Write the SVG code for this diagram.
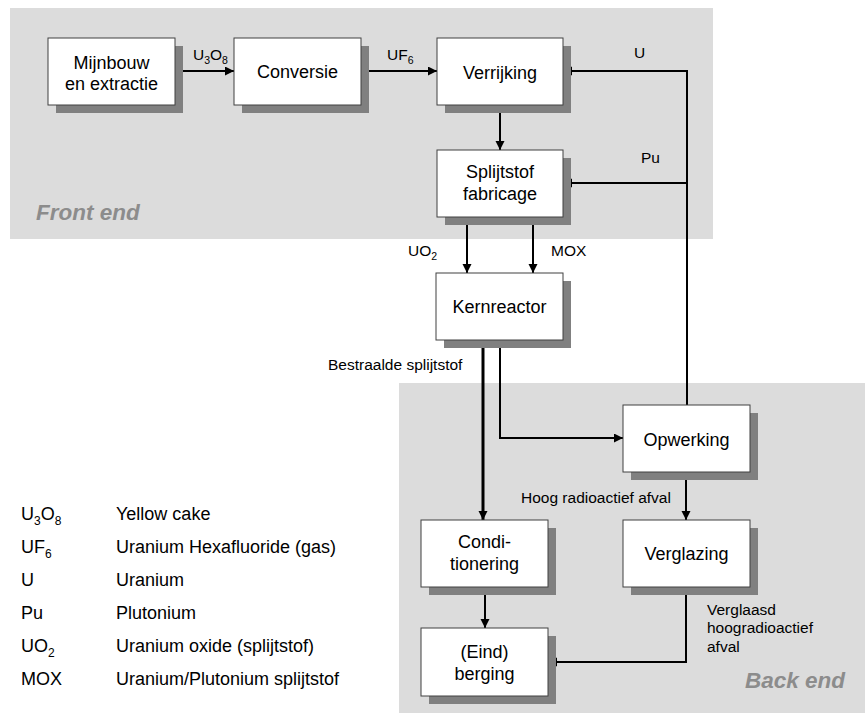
<svg xmlns="http://www.w3.org/2000/svg" width="865" height="713" viewBox="0 0 865 713">
<defs>
<marker id="arr" markerUnits="userSpaceOnUse" markerWidth="10" markerHeight="10" refX="9" refY="4.5" orient="auto">
<path d="M0,0 L9,4.5 L0,9 z" fill="#000"/>
</marker>
</defs>
<style>
text{font-family:"Liberation Sans",Arial,Helvetica,sans-serif;fill:#000}
.box{fill:#fff;stroke:#404040;stroke-width:1}
.sh{fill:#808080}
.bt{font-size:18px;text-anchor:middle}
.lb{font-size:15.5px}
.lg{font-size:18px}
.reg{font-size:22.5px;font-weight:bold;font-style:italic;fill:#8c8c8c}
.con{fill:none;stroke:#000;stroke-width:2}
</style>
<rect x="0" y="0" width="865" height="713" fill="#fff"/>
<g id="front-end">
<rect x="10" y="8" width="703" height="231" fill="#dcdcdc"/>
<text class="reg" x="36" y="220">Front end</text>
</g>
<g id="back-end">
<rect x="399" y="383" width="466" height="330" fill="#dcdcdc"/>
<text class="reg" x="745" y="688">Back end</text>
</g>
<g id="connectors">
<path class="con" d="M175,71 H234" marker-end="url(#arr)"/>
<path class="con" d="M361,71 H437" marker-end="url(#arr)"/>
<path class="con" d="M687,405 V71 H563" marker-end="url(#arr)"/>
<path class="con" d="M687,183 H563" marker-end="url(#arr)"/>
<path class="con" d="M500,105 V150" marker-end="url(#arr)"/>
<path class="con" d="M467,217 V273" marker-end="url(#arr)"/>
<path class="con" d="M533,217 V273" marker-end="url(#arr)"/>
<path class="con" style="stroke-width:3" d="M483,340 V520" marker-end="url(#arr)"/>
<path class="con" d="M500,340 V438 H623" marker-end="url(#arr)"/>
<path class="con" d="M686,472 V520" marker-end="url(#arr)"/>
<path class="con" d="M485,587 V628" marker-end="url(#arr)"/>
<path class="con" d="M686,587 V662 H548" marker-end="url(#arr)"/>
</g>
<g id="labels">
<text class="lb" x="193" y="60">U<tspan font-size="10.5" dy="4">3</tspan><tspan dy="-4">O</tspan><tspan font-size="10.5" dy="4">8</tspan></text>
<text class="lb" x="387" y="60">UF<tspan font-size="10.5" dy="4">6</tspan></text>
<text class="lb" x="634" y="58">U</text>
<text class="lb" x="641" y="163">Pu</text>
<text class="lb" x="408" y="256">UO<tspan font-size="10.5" dy="4">2</tspan></text>
<text class="lb" x="551" y="256">MOX</text>
<text class="lb" x="328" y="370">Bestraalde splijtstof</text>
<text class="lb" x="521" y="503">Hoog radioactief afval</text>
<text class="lb" x="707" y="615">Verglaasd</text>
<text class="lb" x="707" y="633">hoogradioactief</text>
<text class="lb" x="707" y="652">afval</text>
</g>
<g id="mijnbouw">
<rect class="sh" x="56" y="46" width="127" height="67"/>
<rect class="box" x="48" y="38" width="127" height="67"/>
<text class="bt" x="111.5" y="69">Mijnbouw</text>
<text class="bt" x="111.5" y="90">en extractie</text>
</g>
<g id="conversie">
<rect class="sh" x="242" y="46" width="127" height="67"/>
<rect class="box" x="234" y="38" width="127" height="67"/>
<text class="bt" x="297.5" y="78">Conversie</text>
</g>
<g id="verrijking">
<rect class="sh" x="445" y="46" width="126" height="67"/>
<rect class="box" x="437" y="38" width="126" height="67"/>
<text class="bt" x="500" y="79">Verrijking</text>
</g>
<g id="splijtstof-fabricage">
<rect class="sh" x="445" y="158" width="126" height="67"/>
<rect class="box" x="437" y="150" width="126" height="67"/>
<text class="bt" x="500" y="178">Splijtstof</text>
<text class="bt" x="500" y="200">fabricage</text>
</g>
<g id="kernreactor">
<rect class="sh" x="444" y="281" width="127" height="67"/>
<rect class="box" x="436" y="273" width="127" height="67"/>
<text class="bt" x="499.5" y="313">Kernreactor</text>
</g>
<g id="opwerking">
<rect class="sh" x="631" y="413" width="127" height="67"/>
<rect class="box" x="623" y="405" width="127" height="67"/>
<text class="bt" x="686.5" y="446">Opwerking</text>
</g>
<g id="verglazing">
<rect class="sh" x="631" y="528" width="127" height="67"/>
<rect class="box" x="623" y="520" width="127" height="67"/>
<text class="bt" x="686.5" y="560">Verglazing</text>
</g>
<g id="conditionering">
<rect class="sh" x="429" y="528" width="127" height="67"/>
<rect class="box" x="421" y="520" width="127" height="67"/>
<text class="bt" x="484.5" y="548">Condi-</text>
<text class="bt" x="484.5" y="570">tionering</text>
</g>
<g id="eindberging">
<rect class="sh" x="429" y="636" width="127" height="68"/>
<rect class="box" x="421" y="628" width="127" height="68"/>
<text class="bt" x="484.5" y="658">(Eind)</text>
<text class="bt" x="484.5" y="680">berging</text>
</g>
<g id="legend">
<text class="lg" x="21" y="520">U<tspan font-size="12" dy="5">3</tspan><tspan dy="-5">O</tspan><tspan font-size="12" dy="5">8</tspan></text>
<text class="lg" x="116" y="520">Yellow cake</text>
<text class="lg" x="21" y="553">UF<tspan font-size="12" dy="5">6</tspan></text>
<text class="lg" x="116" y="553">Uranium Hexafluoride (gas)</text>
<text class="lg" x="21" y="586">U</text>
<text class="lg" x="116" y="586">Uranium</text>
<text class="lg" x="21" y="619">Pu</text>
<text class="lg" x="116" y="619">Plutonium</text>
<text class="lg" x="21" y="652">UO<tspan font-size="12" dy="5">2</tspan></text>
<text class="lg" x="116" y="652">Uranium oxide (splijtstof)</text>
<text class="lg" x="21" y="685">MOX</text>
<text class="lg" x="116" y="685">Uranium/Plutonium splijtstof</text>
</g>
</svg>
